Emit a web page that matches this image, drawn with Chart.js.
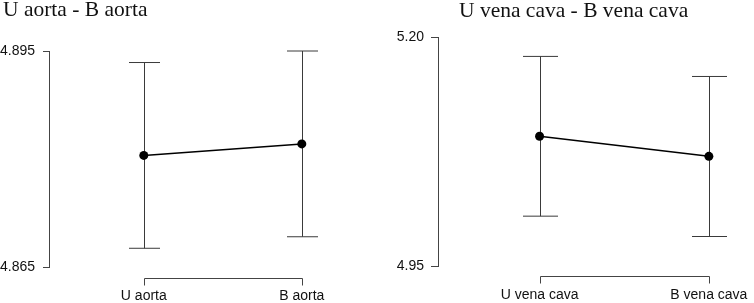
<!DOCTYPE html>
<html>
<head>
<meta charset="utf-8">
<script src="https://cdn.jsdelivr.net/npm/chart.js@4/dist/chart.umd.min.js"></script>
<style>
  html, body { margin: 0; padding: 0; background: #fff; }
  #wrap { position: relative; width: 754px; height: 303px; }
  canvas { position: absolute; top: 0; }
  #c1 { left: 0; }
  #c2 { left: 377px; }
</style>
</head>
<body>
<div id="wrap">
  <canvas id="c1" width="377" height="303"></canvas>
  <canvas id="c2" width="377" height="303"></canvas>
</div>
<script>
// left panel
const aortaTitle = "U aorta - B aorta";
const aortaCategories = ["U aorta", "B aorta"];
const aortaMean = [4.8805, 4.8821];
const aortaLower = [4.8676, 4.8692];
const aortaUpper = [4.8934, 4.8950];
const aortaTicks = [4.865, 4.895];

// right panel
const cavaTitle = "U vena cava - B vena cava";
const cavaCategories = ["U vena cava", "B vena cava"];
const cavaMean = [5.0916, 5.0697];
const cavaLower = [5.0044, 4.9822];
const cavaUpper = [5.1788, 5.1569];
const cavaTicks = [4.95, 5.20];

const axisColor = "#444";
const barColor = "#3a3a3a";
const sans = "'Liberation Sans', Arial, sans-serif";
const serif = "'Liberation Serif', 'Times New Roman', serif";

const crearPanel = (id, p) => {
  const extras = {
    id: "extras",
    beforeDatasetsDraw(chart) {
      const { ctx, scales: { x, y } } = chart;
      ctx.save();
      ctx.strokeStyle = barColor;
      ctx.lineWidth = 1;
      p.categories.forEach((c, i) => {
        const px = Math.round(x.getPixelForValue(i)) + 0.5;
        const top = y.getPixelForValue(p.upper[i]);
        const bot = y.getPixelForValue(p.lower[i]);
        ctx.beginPath();
        ctx.moveTo(px, top); ctx.lineTo(px, bot);
        ctx.moveTo(px - p.cap, top); ctx.lineTo(px + p.cap, top);
        ctx.moveTo(px - p.cap, bot); ctx.lineTo(px + p.cap, bot);
        ctx.stroke();
      });
      ctx.restore();
    },
    afterDraw(chart) {
      const { ctx, chartArea, scales: { x, y } } = chart;
      ctx.save();
      ctx.strokeStyle = axisColor;
      ctx.lineWidth = 1;
      // y axis tick marks
      const ax = Math.round(chartArea.left) + 0.5;
      ctx.beginPath();
      p.ticks.forEach(v => {
        const py = Math.round(y.getPixelForValue(v)) + 0.5;
        ctx.moveTo(ax - p.tickLen, py); ctx.lineTo(ax, py);
      });
      ctx.stroke();
      // x axis bracket
      const x0 = Math.round(x.getPixelForValue(0)) + 0.5;
      const x1 = Math.round(x.getPixelForValue(p.categories.length - 1)) + 0.5;
      const yb = Math.round(chartArea.bottom + p.bracketGap) + 0.5;
      ctx.beginPath();
      ctx.moveTo(x0, yb + 7); ctx.lineTo(x0, yb);
      ctx.lineTo(x1, yb); ctx.lineTo(x1, yb + 7);
      ctx.stroke();
      // title
      ctx.fillStyle = "#111";
      ctx.font = "21.5px " + serif;
      ctx.textAlign = "left";
      ctx.textBaseline = "alphabetic";
      ctx.fillText(p.title, p.titleX, p.titleY);
      ctx.restore();
    }
  };

  return new Chart(document.getElementById(id), {
    type: "line",
    data: {
      datasets: [{
        data: p.mean.map((m, i) => ({ x: i, y: m })),
        borderColor: "#000",
        borderWidth: 1.5,
        pointRadius: 4.5,
        pointBackgroundColor: "#000",
        pointBorderWidth: 0,
        clip: false
      }]
    },
    options: {
      responsive: false,
      animation: false,
      layout: { padding: { left: 0, right: p.padRight, top: p.padTop, bottom: 0 } },
      plugins: { legend: { display: false }, tooltip: { enabled: false } },
      scales: {
        x: {
          type: "linear",
          min: p.xMin,
          max: p.xMax,
          afterBuildTicks: s => { s.ticks = p.categories.map((c, i) => ({ value: i })); },
          afterFit: s => { s.height = p.xHeight; s.paddingLeft = 0; s.paddingRight = 0; },
          ticks: {
            callback: v => p.categories[v],
            padding: 21,
            maxRotation: 0,
            autoSkip: false,
            color: "#111",
            font: { family: sans, size: 14 }
          },
          grid: { display: false, drawTicks: false },
          border: { display: false }
        },
        y: {
          min: p.ticks[0],
          max: p.ticks[1],
          afterBuildTicks: s => { s.ticks = p.ticks.map(v => ({ value: v })); },
          afterFit: s => { s.width = p.yWidth; },
          ticks: {
            callback: v => v.toFixed(p.digits),
            padding: p.tickPad,
            color: "#111",
            font: { family: sans, size: 14 }
          },
          grid: { drawOnChartArea: false, drawTicks: true, tickLength: p.tickLen, color: axisColor },
          border: { display: true, color: axisColor, width: 1 }
        }
      }
    },
    plugins: [extras]
  });
};

crearPanel("c1", {
  title: aortaTitle, titleX: 3, titleY: 16,
  categories: aortaCategories, mean: aortaMean, lower: aortaLower, upper: aortaUpper,
  ticks: aortaTicks, digits: 3,
  xMin: -0.6, xMax: 1.4, padRight: 12, padTop: 51, xHeight: 36, yWidth: 49,
  tickPad: 8, tickLen: 6, cap: 15.5, bracketGap: 10.5
});

crearPanel("c2", {
  title: cavaTitle, titleX: 82, titleY: 17,
  categories: cavaCategories, mean: cavaMean, lower: cavaLower, upper: cavaUpper,
  ticks: cavaTicks, digits: 2,
  xMin: -0.6, xMax: 1.24, padRight: 0, padTop: 37, xHeight: 37, yWidth: 61,
  tickPad: 7, tickLen: 7, cap: 17.5, bracketGap: 10
});
</script>
</body>
</html>
